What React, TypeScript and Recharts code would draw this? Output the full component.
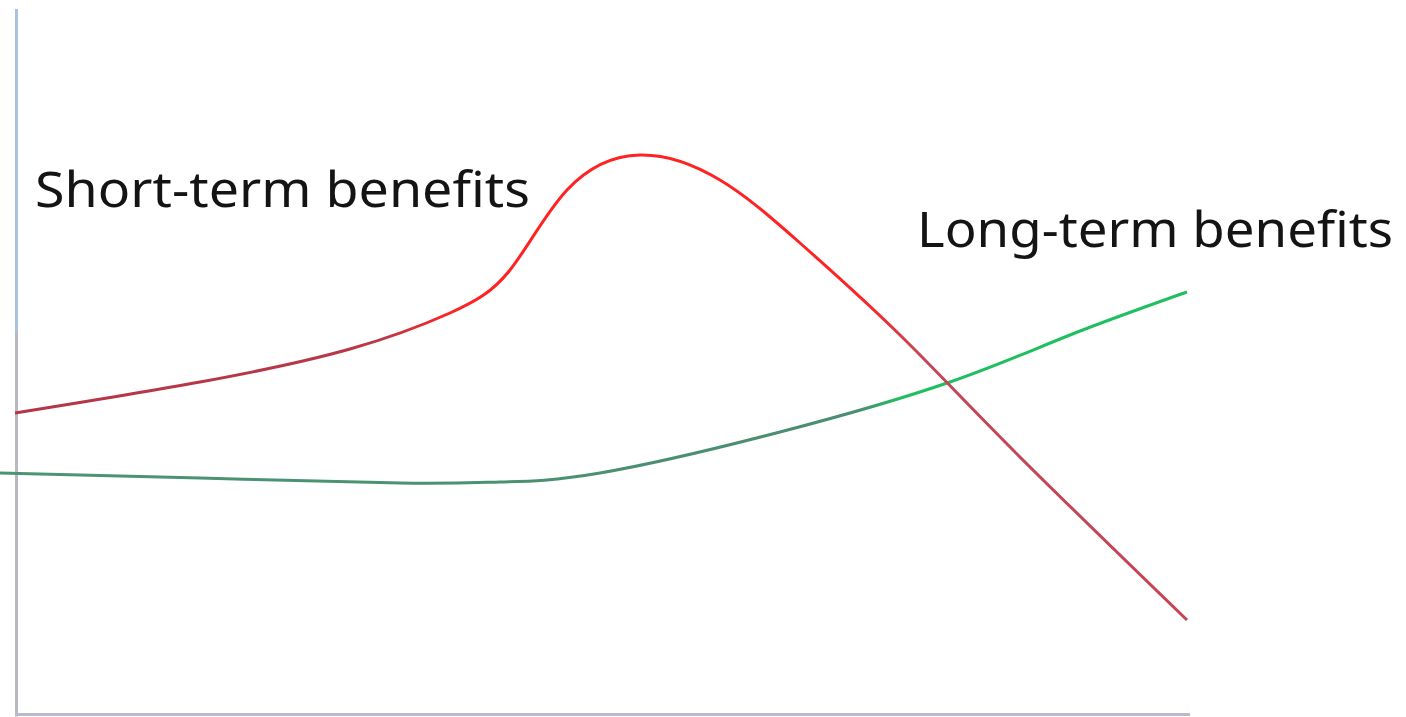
import { LineChart, Line, XAxis, YAxis, ReferenceLine } from "recharts";

// time (left to right) and benefit (bottom to top)
const shortTermTime = [15, 200, 350, 450, 510, 567, 640, 720, 800, 900, 1013, 1187];
const shortTermBenefit = [304, 335, 368, 404, 447, 527, 562, 537, 474, 382, 267, 97];

const longTermTime = [0, 200, 400, 500, 600, 780, 950, 1070, 1187];
const longTermBenefit = [244, 239, 234, 235, 244, 285, 335, 382, 425];

const shortData = shortTermTime.map((t, i) => ({ t, v: shortTermBenefit[i] }));
const longData = longTermTime.map((t, i) => ({ t, v: longTermBenefit[i] }));

const W = 1406;
const H = 717;

export default function App() {
  return (
    <div style={{ position: "absolute", left: 0, top: 0, background: "#fff" }}>
      <LineChart width={W} height={H} margin={{ top: 0, right: 0, bottom: 0, left: 0 }}>
        <defs>
          <linearGradient id="redStroke" gradientUnits="userSpaceOnUse" x1={0} y1={0} x2={W} y2={0}>
            <stop offset={0} stopColor="#b43646" />
            <stop offset={380 / W} stopColor="#b83848" />
            <stop offset={450 / W} stopColor="#ff2222" />
            <stop offset={860 / W} stopColor="#ff2222" />
            <stop offset={920 / W} stopColor="#c44656" />
            <stop offset={1} stopColor="#c44656" />
          </linearGradient>
          <linearGradient id="greenStroke" gradientUnits="userSpaceOnUse" x1={0} y1={0} x2={W} y2={0}>
            <stop offset={0} stopColor="#4a9474" />
            <stop offset={860 / W} stopColor="#4a8e70" />
            <stop offset={900 / W} stopColor="#1fbf5f" />
            <stop offset={1} stopColor="#1fbf5f" />
          </linearGradient>
        </defs>
        <XAxis dataKey="t" type="number" domain={[0, W]} hide />
        <YAxis type="number" domain={[0, H]} hide />
        <ReferenceLine
          segment={[{ x: 16.5, y: 708 }, { x: 16.5, y: 385 }]}
          stroke="#a8c2e0"
          strokeWidth={3}
        />
        <ReferenceLine
          segment={[{ x: 16.5, y: 385 }, { x: 16.5, y: 0.5 }]}
          stroke="#b8b9c0"
          strokeWidth={3}
        />
        <ReferenceLine
          segment={[{ x: 15, y: 2.5 }, { x: 1190, y: 2.5 }]}
          stroke="#b9bcc8"
          strokeWidth={3}
        />
        <Line
          data={longData}
          dataKey="v"
          type="natural"
          stroke="url(#greenStroke)"
          strokeWidth={3}
          dot={false}
          activeDot={false}
          isAnimationActive={false}
        />
        <Line
          data={shortData}
          dataKey="v"
          type="natural"
          stroke="url(#redStroke)"
          strokeWidth={3}
          dot={false}
          activeDot={false}
          isAnimationActive={false}
        />
        <text
          x={35}
          y={207}
          fontFamily="Noto Sans"
          fontSize={50}
          fill="#141414"
          textLength={495}
          lengthAdjust="spacingAndGlyphs"
        >
          Short-term benefits
        </text>
        <text
          x={917}
          y={247}
          fontFamily="Noto Sans"
          fontSize={50}
          fill="#141414"
          textLength={476}
          lengthAdjust="spacingAndGlyphs"
        >
          Long-term benefits
        </text>
      </LineChart>
    </div>
  );
}
